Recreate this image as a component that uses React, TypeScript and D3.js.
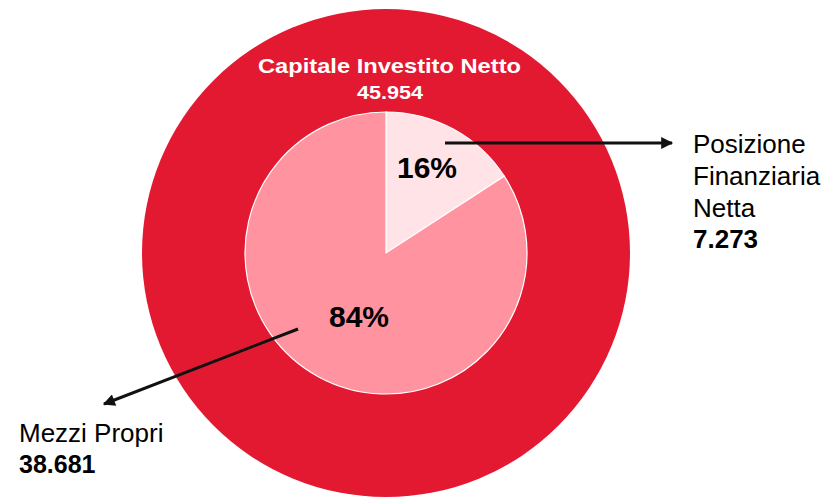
import React from "react";
import * as d3 from "d3";

const categories = ["Posizione Finanziaria Netta", "Mezzi Propri"];
const values = [7.273, 38.681];
const valueLabels = ["7.273", "38.681"];
const pctLabels = ["16%", "84%"];
const totalLabel = "Capitale Investito Netto";
const totalValue = "45.954";
const sliceColors = ["#ffe3e7", "#ff939f"];
const outerColor = "#e31932";

export default function App() {
  const W = 829, H = 501;
  const cx = 386, cy = 253;
  const outerR = 244;
  const innerR = 141;
  const pie = d3.pie<number>().sort(null).value((d) => d);
  const arcs = pie(values);
  const arc = d3.arc<d3.PieArcDatum<number>>().innerRadius(0).outerRadius(innerR);
  const font = "'Liberation Sans', Arial, Helvetica, sans-serif";

  return (
    <svg width={W} height={H} style={{ position: "absolute", left: 0, top: 0 }} fontFamily={font}>
      <defs>
        <marker id="ah2" viewBox="0 0 10 10" refX="9" refY="5" markerWidth="16" markerHeight="12" markerUnits="userSpaceOnUse" orient="auto">
          <path d="M0,0 L10,5 L0,10 Z" fill="#111" />
        </marker>
      </defs>
      <circle cx={cx} cy={cy} r={outerR} fill={outerColor} />
      <g transform={`translate(${cx},${cy})`}>
        {arcs.map((a, i) => (
          <path key={categories[i]} d={arc(a) || ""} fill={sliceColors[i]} stroke="#fff" strokeWidth={1.2} />
        ))}
      </g>
      <text x={258} y={73} fill="#fff" fontWeight="bold" fontSize={21} textLength={263} lengthAdjust="spacingAndGlyphs">{totalLabel}</text>
      <text x={357} y={99} fill="#fff" fontWeight="bold" fontSize={18} textLength={66} lengthAdjust="spacingAndGlyphs">{totalValue}</text>

      <text x={397} y={178} fill="#000" fontWeight="bold" fontSize={30}>{pctLabels[0]}</text>
      <text x={329} y={327} fill="#000" fontWeight="bold" fontSize={30}>{pctLabels[1]}</text>

      <line x1={445} y1={143} x2={672} y2={143} stroke="#111" strokeWidth={3} markerEnd="url(#ah2)" />
      <line x1={298} y1={329} x2={104} y2={404} stroke="#111" strokeWidth={3} markerEnd="url(#ah2)" />

      <text x={693} y={153} fontSize={26} fill="#000">Posizione</text>
      <text x={693} y={185} fontSize={26} fill="#000">Finanziaria</text>
      <text x={693} y={217} fontSize={26} fill="#000">Netta</text>
      <text x={693} y={248} fontSize={26} fontWeight="bold" fill="#000">{valueLabels[0]}</text>

      <text x={19} y={442} fontSize={26} fill="#000">Mezzi Propri</text>
      <text x={19} y={473} fontSize={25} fontWeight="bold" fill="#000">{valueLabels[1]}</text>
    </svg>
  );
}
